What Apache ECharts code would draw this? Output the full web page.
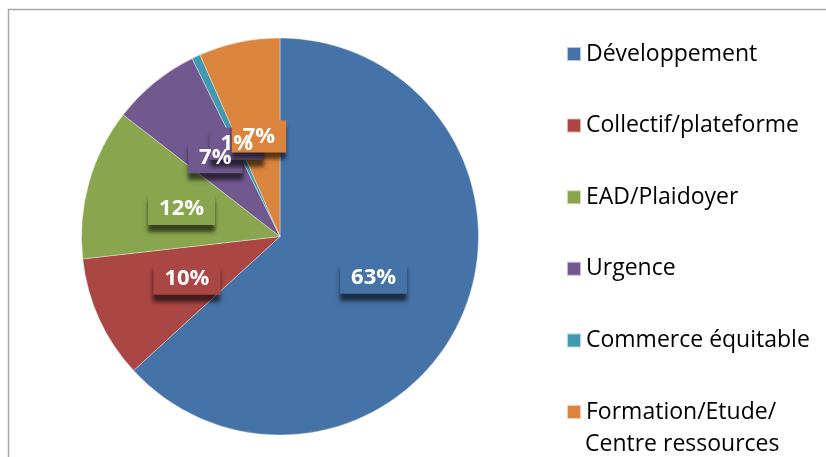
<!DOCTYPE html>
<html>
<head>
<meta charset="utf-8">
<script src="https://cdn.jsdelivr.net/npm/echarts@6/dist/echarts.min.js"></script>
<style>
  html, body { margin: 0; padding: 0; background: #fff; }
  #chart { width: 826px; height: 457px; }
</style>
</head>
<body>
<div id="chart"></div>
<script>
// categories and shares (percent)
const categories = ['Développement', 'Collectif/plateforme', 'EAD/Plaidoyer', 'Urgence', 'Commerce équitable', 'Formation/Etude/\nCentre ressources'];
const shares = [63.2, 10.0, 12.3, 7.2, 0.7, 6.6];
const colors = ['#4572A7', '#AA4643', '#89A54E', '#71588F', '#4198AF', '#DB843D'];

const chart = echarts.init(document.getElementById('chart'));

const fontFamily = '"Open Sans", "Noto Sans", sans-serif';
const pieCenter = [280, 236.5];
const pieRadius = 198.5;

// shared label geometry, so the box layer and the text layer line up
const labelBase = {
  show: true,
  position: 'inside',
  overflow: 'none',
  formatter: function (p) { return Math.round(p.value) + '%'; },
  fontFamily: fontFamily,
  fontWeight: 'bold',
  fontSize: 22,
  padding: [5, 11, 5, 11]
};

const pieData = categories.map(function (name, i) {
  return { name: name, value: shares[i] };
});

// the 1% box has no visible fill in the reference, only its shadow
const boxData = pieData.map(function (d, i) {
  const item = { name: d.name, value: d.value };
  if (i === 4) item.label = { backgroundColor: colors[3] };
  return item;
});

const legendTop = 38;
const legendStep = 71.6;

const option = {
  color: colors,
  animation: false,
  graphic: [{
    type: 'rect',
    shape: { x: 8.5, y: 9.5, width: 900, height: 600 },
    style: { fill: 'none', stroke: '#a6a6a6', lineWidth: 1.5 },
    silent: true
  }, {
    // second line of the last legend entry
    type: 'text',
    x: 585,
    y: legendTop + 16 + legendStep * 5 + 32,
    style: {
      text: categories[5].split('\n')[1],
      fontFamily: fontFamily,
      fontSize: 23,
      fill: '#000',
      verticalAlign: 'middle'
    },
    silent: true
  }],
  legend: {
    orient: 'vertical',
    left: 566,
    top: legendTop,
    height: 800,
    padding: 0,
    itemWidth: 14,
    itemHeight: 14,
    itemGap: legendStep - 32,
    icon: 'rect',
    data: categories,
    formatter: function (name) { return name.split('\n')[0]; },
    textStyle: {
      fontFamily: fontFamily,
      fontSize: 23,
      lineHeight: 32,
      color: '#000'
    }
  },
  series: [{
    // slices + shadowed label boxes
    type: 'pie',
    z: 2,
    center: pieCenter,
    radius: pieRadius,
    startAngle: 90,
    clockwise: true,
    avoidLabelOverlap: false,
    minShowLabelAngle: 0,
    itemStyle: { borderColor: 'rgba(255,255,255,0.6)', borderWidth: 0.6 },
    label: Object.assign({}, labelBase, {
      color: 'transparent',
      backgroundColor: 'inherit',
      shadowColor: 'rgba(0,0,0,0.6)',
      shadowBlur: 4,
      shadowOffsetX: 0,
      shadowOffsetY: 7
    }),
    labelLayout: { hideOverlap: false },
    labelLine: { show: false },
    emphasis: { disabled: true },
    data: boxData
  }, {
    // label texts on top of every box
    type: 'pie',
    z: 3,
    center: pieCenter,
    radius: pieRadius,
    startAngle: 90,
    clockwise: true,
    avoidLabelOverlap: false,
    minShowLabelAngle: 0,
    silent: true,
    itemStyle: { color: 'transparent', borderWidth: 0 },
    label: Object.assign({}, labelBase, { color: '#fff' }),
    labelLayout: { hideOverlap: false },
    labelLine: { show: false },
    emphasis: { disabled: true },
    data: pieData
  }]
};

chart.setOption(option);
</script>
</body>
</html>
